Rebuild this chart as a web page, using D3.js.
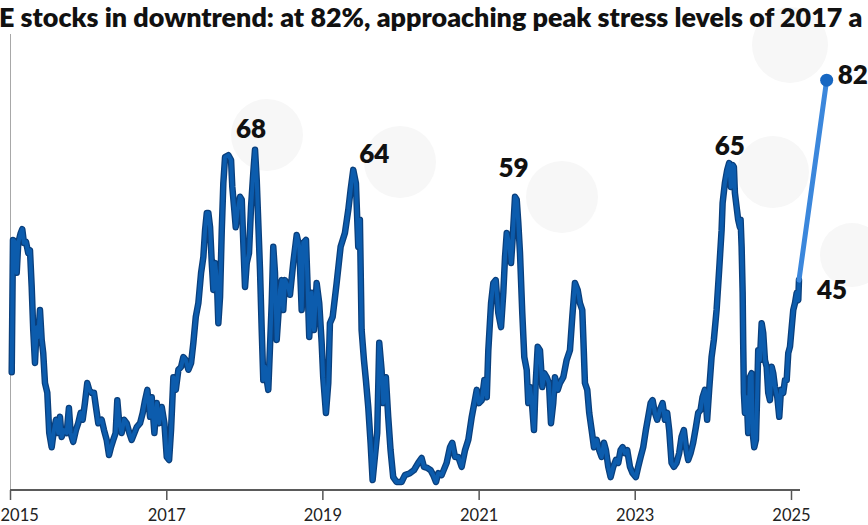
<!DOCTYPE html>
<html><head><meta charset="utf-8">
<script src="https://cdn.jsdelivr.net/npm/d3@7"></script>
<style>html,body{margin:0;padding:0;background:#fff;overflow:hidden}</style>
</head><body><div id="chart"></div>
<script>
// ---------------- DATA ----------------
const titleText = "E stocks in downtrend: at 82%, approaching peak stress levels of 2017 a";
const yearTicks = [2015, 2017, 2019, 2021, 2023, 2025];

// decimal-year dates and % of stocks in downtrend, year by year
const d2015 = [2015.022,2015.038,2015.064,2015.086,2015.106,2015.137,2015.157,2015.179,2015.205,2015.234,
 2015.256,2015.278,2015.298,2015.320,2015.342,2015.362,2015.384,2015.406,2015.426,2015.448,
 2015.478,2015.503,2015.534,2015.563,2015.589,2015.618,2015.640,2015.662,2015.691,2015.726,
 2015.755,2015.777,2015.810,2015.845,2015.874,2015.905,2015.931,2015.960,2015.990];
const v2015 = [22.4,49.4,49.0,42.7,48.8,50.8,51.6,48.8,49.0,46.7,
 47.3,39.8,31.0,24.3,31.6,29.6,35.1,29.0,26.3,20.2,
 18.2,10.0,7.1,10.6,12.7,10.0,13.3,9.2,10.6,10.0,
 15.1,10.0,8.2,10.6,12.0,14.1,12.7,16.1,20.2];

const d2016 = [2016.015,2016.046,2016.076,2016.101,2016.131,2016.174,2016.204,2016.238,2016.268,2016.293,
 2016.323,2016.353,2016.374,2016.399,2016.430,2016.460,2016.494,2016.528,2016.558,2016.592,
 2016.622,2016.665,2016.699,2016.729,2016.758,2016.793,2016.814,2016.848,2016.879,2016.908,
 2016.942,2016.976];
const v2016 = [18.8,18.2,18.2,15.3,12.0,12.7,10.6,8.6,5.5,7.1,
 8.6,10.0,16.7,12.0,10.0,12.7,12.0,10.0,8.6,10.0,
 11.2,12.0,14.1,16.7,18.8,13.3,17.3,10.0,16.1,12.0,
 15.3,12.0];

const d2017 = [2017.006,2017.036,2017.061,2017.091,2017.122,2017.155,2017.190,2017.219,2017.250,2017.283,
 2017.318,2017.347,2017.378,2017.411,2017.446,2017.475,2017.497,2017.519,2017.539,2017.561,
 2017.583,2017.603,2017.625,2017.647,2017.667,2017.689,2017.711,2017.731,2017.753,2017.795,
 2017.830,2017.846,2017.872,2017.890,2017.915,2017.945,2017.967,2017.987];
const v2017 = [5.1,4.5,10.6,21.4,18.8,22.9,23.5,25.5,24.9,22.9,
 24.3,28.4,33.7,36.5,42.7,45.9,51.4,54.9,54.9,52.0,
 44.7,39.2,44.7,41.8,32.4,37.8,51.4,61.0,66.3,66.7,
 65.7,60.2,55.5,52.0,55.5,58.2,57.6,48.8];

const d2018 = [2018.009,2018.031,2018.060,2018.086,2018.115,2018.137,2018.159,2018.179,2018.201,2018.223,
 2018.243,2018.265,2018.287,2018.307,2018.329,2018.351,2018.371,2018.393,2018.415,2018.435,
 2018.457,2018.479,2018.499,2018.521,2018.563,2018.585,2018.627,2018.671,2018.704,2018.735,
 2018.755,2018.790,2018.807,2018.832,2018.863,2018.892,2018.927,2018.960,2018.991];
const v2018 = [39.8,44.7,46.7,56.1,63.1,67.8,61.6,52.9,43.3,31.0,
 20.8,23.5,20.8,18.8,27.6,36.5,48.0,42.7,29.0,33.7,
 39.2,41.2,35.1,41.2,39.8,38.2,44.7,50.4,48.0,35.1,
 48.8,49.4,41.8,29.6,38.6,31.0,40.6,36.5,28.4];

const d2019 = [2019.011,2019.046,2019.076,2019.097,2019.132,2019.183,2019.234,2019.289,2019.332,2019.362,
 2019.396,2019.430,2019.460,2019.481,2019.503,2019.533,2019.558,2019.588,2019.618,2019.644,
 2019.673,2019.703,2019.729,2019.759,2019.780,2019.814,2019.844,2019.874,2019.908,2019.951];
const v2019 = [21.4,14.1,20.2,32.4,33.7,40.6,48.0,50.8,55.5,59.6,
 63.7,61.0,48.0,53.5,31.0,24.9,20.8,15.3,8.0,0.4,
 5.1,10.0,28.4,22.9,16.1,21.4,13.3,6.5,1.0,0.0];

const d2020 = [2020.015,2020.058,2020.122,2020.173,2020.228,2020.271,2020.301,2020.343,2020.387,2020.420,
 2020.455,2020.484,2020.527,2020.591,2020.634,2020.663,2020.698,2020.740,2020.783,2020.826,
 2020.868,2020.912,2020.945,2020.976];
const v2020 = [0.0,1.4,1.8,2.4,3.9,4.9,3.1,2.9,2.4,1.4,
 0.0,1.8,1.4,3.9,7.1,8.0,5.1,5.1,3.1,6.5,
 8.6,13.3,16.1,18.8];

const d2021 = [2021.005,2021.040,2021.073,2021.104,2021.124,2021.159,2021.188,2021.219,2021.252,2021.287,
 2021.316,2021.338,2021.360,2021.389,2021.415,2021.437,2021.466,2021.488,2021.508,2021.530,
 2021.559,2021.585,2021.616,2021.636,2021.658,2021.680,2021.709,2021.731,2021.757,2021.786,
 2021.816,2021.841,2021.872,2021.901,2021.927,2021.956,2021.978];
const v2021 = [16.1,16.7,20.8,17.3,26.9,36.5,40.6,41.2,34.5,31.6,
 38.6,45.9,50.8,48.8,44.7,50.0,58.2,57.6,52.9,46.7,
 34.5,25.5,22.9,16.1,19.4,16.7,10.6,20.2,27.6,26.9,
 19.4,22.2,21.4,20.2,12.0,16.1,21.4];

const d2022 = [2022.013,2022.042,2022.085,2022.128,2022.170,2022.200,2022.234,2022.269,2022.298,2022.328,
 2022.341,2022.362,2022.392,2022.417,2022.448,2022.478,2022.512,2022.545,2022.576,2022.606,
 2022.631,2022.661,2022.691,2022.725,2022.759,2022.789,2022.819,2022.845,2022.874,2022.904,
 2022.939,2022.973];
const v2022 = [18.8,20.2,21.4,24.9,26.9,33.7,40.6,39.2,36.5,35.1,
 29.6,20.2,18.8,14.1,10.6,7.1,8.6,6.5,5.1,8.0,
 6.5,3.1,1.0,3.1,4.5,3.9,6.5,7.1,5.9,6.5,
 3.1,1.8];

const d2023 = [2023.015,2023.045,2023.076,2023.109,2023.143,2023.173,2023.204,2023.229,2023.259,2023.288,
 2023.323,2023.357,2023.387,2023.416,2023.442,2023.472,2023.502,2023.536,2023.570,2023.600,
 2023.630,2023.656,2023.685,2023.716,2023.749,2023.784,2023.813,2023.844,2023.869,2023.899,
 2023.928,2023.954,2023.985];
const v2023 = [1.0,3.1,5.1,7.1,10.6,13.3,16.1,16.7,14.1,12.7,
 14.7,16.1,12.7,14.1,10.6,3.9,3.1,3.9,5.9,9.2,
 10.6,7.1,4.5,5.9,8.0,11.2,14.1,14.7,17.3,18.8,
 12.7,18.8,25.5];

const d2024 = [2024.014,2024.049,2024.082,2024.113,2024.126,2024.155,2024.185,2024.210,2024.232,2024.254,
 2024.270,2024.283,2024.305,2024.325,2024.347,2024.356,2024.369,2024.382,2024.389,2024.398,
 2024.411,2024.433,2024.453,2024.475,2024.497,2024.510,2024.530,2024.552,2024.568,2024.581,
 2024.603,2024.625,2024.645,2024.667,2024.689,2024.709,2024.731,2024.753,2024.773,2024.795,
 2024.825,2024.850,2024.872,2024.901,2024.923,2024.945,2024.965,2024.987];
const v2024 = [29.0,35.1,43.3,51.4,56.9,61.0,63.7,65.1,60.2,64.7,
 64.3,59.0,56.1,53.5,52.0,53.5,48.0,38.6,28.4,18.2,
 14.1,17.3,10.0,21.4,22.2,10.0,7.1,8.6,18.2,26.9,
 24.9,32.4,30.4,24.9,23.5,18.2,16.7,23.5,22.2,19.4,
 17.3,13.3,18.8,18.2,20.8,20.8,26.3,27.6];

const d2025 = [2025.009,2025.029,2025.051,2025.073,2025.093,2025.102];
const v2025 = [31.6,35.1,36.5,38.6,37.1,41.2];

// latest reading (light segment + dot)
const latestDate = 2025.457;
const latestValue = 82;

// annotations
const peakLabels = ["68", "64", "59", "65"];
const peakDates  = [2018.137, 2019.396, 2021.466, 2024.210];
const startLabel = "45";
const endLabel = "82";

// ---------------- LAYOUT ----------------
const W = 868, H = 525;
const peakDx = [-4, 21, -1.5, 0.7];
const peakDy = [-12, -7, -20, -8];
const blobs = [
  {cx: 267, cy: 135, r: 36}, {cx: 400, cy: 162, r: 36}, {cx: 562, cy: 197, r: 36},
  {cx: 773, cy: 172, r: 36}, {cx: 790, cy: 45, r: 38}, {cx: 852, cy: 255, r: 32}
];

function toDate(t) {
  const y = Math.floor(t);
  const a = Date.UTC(y, 0, 1), b = Date.UTC(y + 1, 0, 1);
  return new Date(a + (t - y) * (b - a));
}

const allD = [].concat(d2015, d2016, d2017, d2018, d2019, d2020, d2021, d2022, d2023, d2024, d2025);
const allV = [].concat(v2015, v2016, v2017, v2018, v2019, v2020, v2021, v2022, v2023, v2024, v2025);
const n = Math.min(allD.length, allV.length);
const series = d3.range(n).map(i => ({date: toDate(allD[i]), value: allV[i]}));

const x = d3.scaleUtc()
  .domain([toDate(2015), toDate(2025)])
  .range([10, 791]);
const y = d3.scaleLinear().domain([0, 100]).range([482, -8]);

const FONT = "Lato, 'Open Sans', sans-serif";
const svg = d3.select("#chart").append("svg")
  .attr("width", W).attr("height", H)
  .style("display", "block")
  .style("font-family", FONT);

svg.append("rect").attr("width", W).attr("height", H).attr("fill", "#fff");

// faint background blobs
svg.append("g").selectAll("circle").data(blobs).join("circle")
  .attr("cx", d => d.cx).attr("cy", d => d.cy).attr("r", d => d.r)
  .attr("fill", "#f7f7f7");

// title: fit to width, keep fully inside the top edge
const title = svg.append("text")
  .attr("x", -1).attr("y", 18)
  .attr("font-size", 24).attr("font-weight", 800)
  .attr("fill", "#111")
  .text(titleText);
const tw = title.node().getComputedTextLength();
title.attr("font-size", 24 * 864 / tw);
const tb = title.node().getBBox();
if (tb.y < 0) title.attr("y", 18 - tb.y);
const tb2 = title.node().getBBox();

// left vertical line
svg.append("line")
  .attr("x1", 10.5).attr("x2", 10.5).attr("y1", tb2.y + tb2.height + 1).attr("y2", 490)
  .attr("stroke", "#a8a8a8").attr("stroke-width", 1);

// x axis
const axisG = svg.append("g").attr("transform", "translate(0,490)");
axisG.call(d3.axisBottom(x)
  .tickValues(yearTicks.map(t => toDate(t)))
  .tickFormat(d3.utcFormat("%Y"))
  .tickSize(10).tickPadding(9).tickSizeOuter(0));
axisG.select(".domain").remove();
axisG.selectAll(".tick line").attr("stroke", "#555").attr("stroke-width", 1.5);
axisG.selectAll(".tick text")
  .attr("font-size", 16.5).attr("fill", "#222")
  .style("font-family", FONT);
axisG.selectAll(".tick text").filter((d, i) => i === 0)
  .attr("text-anchor", "start").attr("x", -10);
axisG.append("line")
  .attr("x1", 10).attr("x2", 800).attr("y1", 0).attr("y2", 0)
  .attr("stroke", "#5a5a5a").attr("stroke-width", 2);

// main line
const line = d3.line().x(d => x(d.date)).y(d => y(d.value));
svg.append("path").datum(series)
  .attr("d", line).attr("fill", "none")
  .attr("stroke", "#0a3f7c").attr("stroke-width", 6.5)
  .attr("stroke-linejoin", "round").attr("stroke-linecap", "round");
svg.append("path").datum(series)
  .attr("d", line).attr("fill", "none")
  .attr("stroke", "#0c5cad").attr("stroke-width", 4)
  .attr("stroke-linejoin", "round").attr("stroke-linecap", "round");

// latest segment
const last = series[series.length - 1];
const latest = {date: toDate(latestDate), value: latestValue};
svg.append("path").datum([last, latest])
  .attr("d", line).attr("fill", "none")
  .attr("stroke", "#3b87dc").attr("stroke-width", 5)
  .attr("stroke-linecap", "round");
svg.append("circle")
  .attr("cx", x(latest.date)).attr("cy", y(latest.value)).attr("r", 6.5)
  .attr("fill", "#1767c2");

// peak labels
const labelStyle = sel => sel.attr("font-size", 26).attr("font-weight", 800).attr("fill", "#111");
peakLabels.forEach((lab, i) => {
  const p = series.reduce((best, d) =>
    Math.abs(d.date - toDate(peakDates[i])) < Math.abs(best.date - toDate(peakDates[i])) ? d : best, series[0]);
  svg.append("text")
    .attr("x", x(p.date) + peakDx[i]).attr("y", y(p.value) + peakDy[i])
    .attr("text-anchor", "middle").call(labelStyle).text(lab);
});
svg.append("text")
  .attr("x", x(latest.date) + 11).attr("y", y(latest.value) + 4)
  .attr("text-anchor", "start").call(labelStyle).text(endLabel);
svg.append("text")
  .attr("x", x(last.date) + 18).attr("y", y(last.value) + 19)
  .attr("text-anchor", "start").call(labelStyle).text(startLabel);
</script>
</body></html>
